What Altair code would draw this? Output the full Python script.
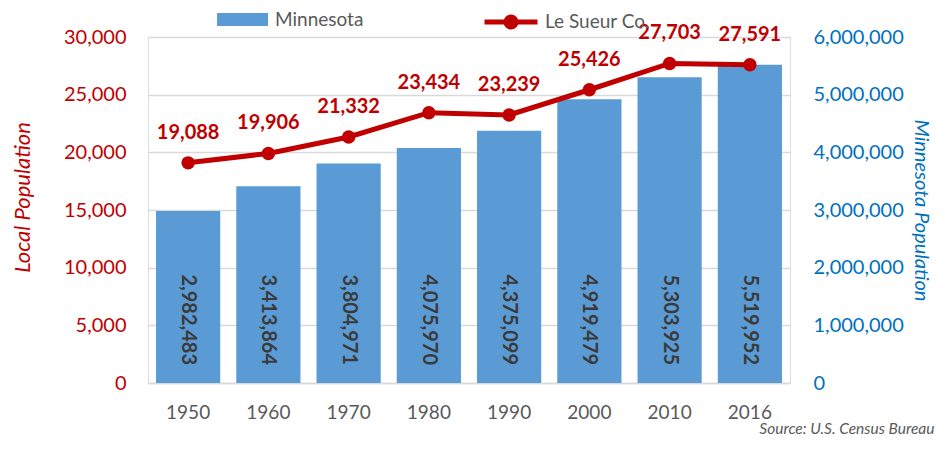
import altair as alt
import pandas as pd

years = ["1950", "1960", "1970", "1980", "1990", "2000", "2010", "2016"]
minnesota = [2982483, 3413864, 3804971, 4075970, 4375099, 4919479, 5303925, 5519952]
le_sueur = [19088, 19906, 21332, 23434, 23239, 25426, 27703, 27591]
left_ticks = [0, 5000, 10000, 15000, 20000, 25000, 30000]
right_ticks = [0, 1000000, 2000000, 3000000, 4000000, 5000000, 6000000]

df = pd.DataFrame({"year": years, "mn": minnesota, "ls": le_sueur})

FONT = "Lato"
RED = "#C00000"
BLUE = "#5B9BD5"
AXBLUE = "#0070C0"
GRAY = "#595959"
GRID = "#D9D9D9"

x = alt.X(
    "year:N",
    sort=years,
    scale=alt.Scale(paddingInner=0.2, paddingOuter=0.1),
    axis=alt.Axis(
        title="Source: U.S. Census Bureau",
        labelAngle=0, labelColor=GRAY, labelFontSize=19, labelFont=FONT,
        labelPadding=20, ticks=False, domainColor=GRID, domainWidth=1.5,
        titleX=786, titleY=45, titleAlign="right", titleBaseline="middle",
        titleFontStyle="italic", titleFontWeight="normal", titleColor=GRAY,
        titleFontSize=15.5, titleFont=FONT,
    ),
)

bars = alt.Chart(df).transform_calculate(series="'Minnesota'").mark_bar().encode(
    x=x,
    y=alt.Y(
        "mn:Q",
        scale=alt.Scale(domain=[0, 6000000]),
        axis=alt.Axis(
            orient="right", values=right_ticks, format=",d",
            labelColor=AXBLUE, labelFontSize=20, labelFont=FONT, labelPadding=23,
            ticks=False, domain=False, grid=False,
            title="Minnesota Population", titleColor=AXBLUE, titleFontSize=20,
            titleFont=FONT, titleFontStyle="italic", titleFontWeight="normal",
            titleAngle=90, titleX=130, titleY=173, titleAlign="center",
            titleBaseline="middle",
        ),
    ),
    color=alt.Color(
        "series:N",
        scale=alt.Scale(domain=["Minnesota"], range=[BLUE]),
        legend=alt.Legend(
            orient="none", legendX=69, legendY=-43, title=None, padding=0,
            symbolType="M-1,-0.255H1V0.255H-1Z", symbolSize=2601,
            symbolStrokeWidth=0, labelFontSize=19, labelColor=GRAY,
            labelFont=FONT, labelOffset=7,
        ),
    ),
)

bar_text = alt.Chart(df).mark_text(
    angle=90, align="right", baseline="middle", dx=-18,
    font=FONT, fontSize=20, fontWeight="bold", color="#3A3A3A",
).encode(
    x=x,
    y=alt.datum(0),
    text=alt.Text("mn:Q", format=",d"),
)

line = alt.Chart(df).transform_calculate(series="'Le Sueur Co.'").mark_line(
    strokeWidth=5,
    point=alt.OverlayMarkDef(size=180, filled=True, opacity=1),
).encode(
    x=x,
    y=alt.Y(
        "ls:Q",
        scale=alt.Scale(domain=[0, 30000]),
        axis=alt.Axis(
            orient="left", values=left_ticks, format=",d",
            labelColor=RED, labelFontSize=20, labelFont=FONT, labelPadding=22,
            ticks=False, domain=False, grid=True, gridColor=GRID, gridWidth=1.5,
            title="Local Population", titleColor=RED, titleFontSize=22,
            titleFont=FONT, titleFontStyle="italic", titleFontWeight="normal",
            titleAngle=-90, titleX=-126, titleY=160, titleAlign="center",
            titleBaseline="middle",
        ),
    ),
    color=alt.Color(
        "series:N",
        scale=alt.Scale(domain=["Le Sueur Co."], range=[RED]),
        legend=alt.Legend(
            orient="none", legendX=334, legendY=-44, title=None, padding=0,
            symbolType="M-1,0H1M0.19,0A0.19,0.19,0,1,1,-0.19,0A0.19,0.19,0,1,1,0.19,0Z",
            symbolSize=2809, labelFontSize=19, labelColor=GRAY,
            labelFont=FONT, labelOffset=5,
            symbolFillColor=RED, symbolStrokeColor=RED, symbolStrokeWidth=5,
            symbolOpacity=1,
        ),
    ),
)

line_text = alt.Chart(df).mark_text(
    dy=-24, baseline="alphabetic", align="center",
    font=FONT, fontSize=20, fontWeight="bold", color=RED,
).encode(
    x=x,
    y=alt.Y("ls:Q"),
    text=alt.Text("ls:Q", format=",d"),
)

chart = alt.layer(
    alt.layer(bars, bar_text),
    alt.layer(line, line_text),
).resolve_scale(
    y="independent", color="independent"
).properties(
    width=642, height=346,
    autosize=alt.AutoSizeParams(type="none"),
    padding={"left": 140, "top": 29, "right": 147, "bottom": 54},
).configure_view(stroke=None).configure(font=FONT)

chart.save("out.html", embed_options={"renderer": "svg", "actions": False})
